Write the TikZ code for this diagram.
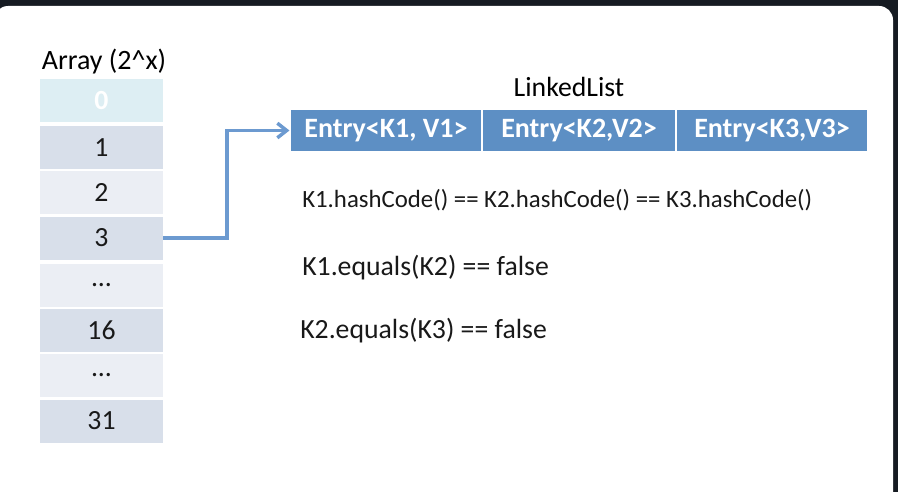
\documentclass[tikz,border=0pt]{standalone}
\usepackage{fontspec}
\setmainfont{Carlito}
\usetikzlibrary{arrows.meta,positioning}

\definecolor{framebg}{HTML}{161B22}
\definecolor{headcell}{HTML}{DDEEF3}
\definecolor{banddark}{HTML}{D8DFEA}
\definecolor{bandlight}{HTML}{EBEEF4}
\definecolor{entryblue}{HTML}{5D8FC4}
\definecolor{linkblue}{HTML}{6C9AD0}

\begin{document}
\begin{tikzpicture}[
  x=0.75pt, y=-0.75pt,
  cell/.style={minimum width=123*0.75pt, minimum height=43*0.75pt, inner sep=0pt,
               font=\fontsize{20.8}{24}\selectfont, text=black!90},
  entry/.style={draw=white, line width=0.8pt, fill=entryblue, text=white,
                minimum height=43*0.75pt, inner sep=0pt,
                font=\fontsize{21}{24}\selectfont\bfseries},
  txt/.style={anchor=west, inner sep=0pt, font=\fontsize{20.8}{24}\selectfont, text=black!90},
  link/.style={draw=linkblue, line width=2.6pt, -{Straight Barb[length=7pt,width=11pt]}}
]
  \useasboundingbox (0,0) rectangle (898,492);
  \fill[framebg] (0,0) rectangle (898,492);
  \fill[white, rounded corners=14*0.75pt] (-6,6) rectangle (893,506);

  \node[font=\fontsize{21}{24}\selectfont] (title) at (104,62) {Array (2\textasciicircum x)};

  % array slots
  \node[cell, fill=headcell, text=white, font=\fontsize{20.8}{24}\selectfont\bfseries] (c0) at (101.5,100.5) {0};
  \node[cell, fill=banddark]  (c1) at (101.5,147.5) {1};
  \node[cell, fill=bandlight] (c2) at (101.5,192.5) {2};
  \node[cell, fill=banddark]  (c3) at (101.5,238)   {3};
  \node[cell, fill=bandlight] (c4) at (101.5,285)   {...};
  \node[cell, fill=banddark]  (c5) at (101.5,330)   {16};
  \node[cell, fill=bandlight] (c6) at (101.5,375)   {...};
  \node[cell, fill=banddark]  (c7) at (101.5,421)   {31};

  % bucket list
  \node[font=\fontsize{20.8}{24}\selectfont] (ll) at (569,87) {LinkedList};
  \node[entry, minimum width=192*0.75pt] (e1) at (386,130.5) {Entry<K1, V1>};
  \node[entry, minimum width=194*0.75pt] (e2) at (579,130.5) {Entry<K2,V2>};
  \node[entry, minimum width=192*0.75pt] (e3) at (772,130.5) {Entry<K3,V3>};

  \node[txt, font=\fontsize{18.6}{22}\selectfont] (hc) at (302,200)
       {K1.hashCode() == K2.hashCode() == K3.hashCode()};
  \node[txt] (eq1) at (302,268) {K1.equals(K2) == false};
  \node[txt] (eq2) at (300,331) {K2.equals(K3) == false};

  % slot 3 points to the list
  \coordinate (bend) at (227,0);
  \draw[link] (c3.east) -- (c3.east -| bend) |- (e1.west);
\end{tikzpicture}
\end{document}
